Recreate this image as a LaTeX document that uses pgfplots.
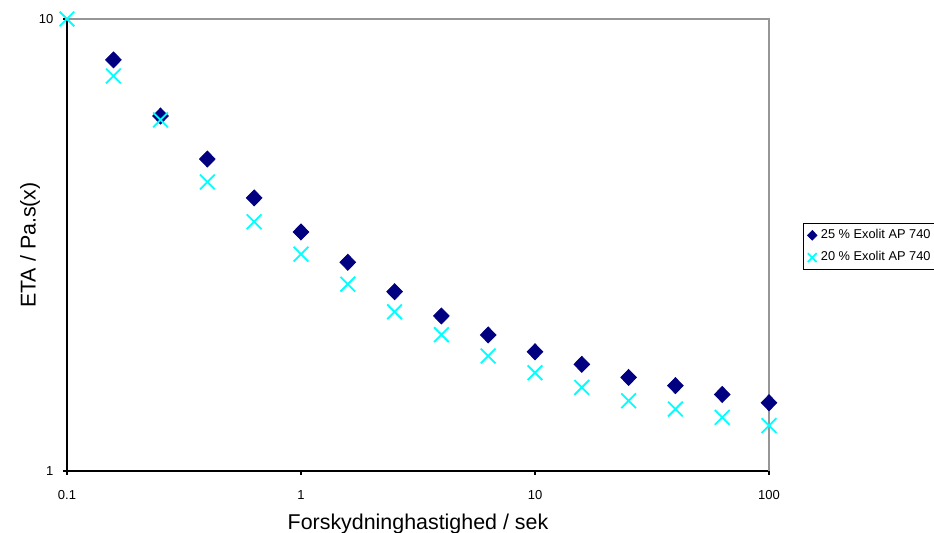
\documentclass[border=0pt]{standalone}
\usepackage{pgfplots}
\pgfplotsset{compat=1.18}
\usepackage{fontspec}
\setmainfont{Liberation Sans}
\definecolor{navyd}{RGB}{0,0,128}
\definecolor{cyanx}{RGB}{0,255,255}
\definecolor{frame}{RGB}{150,150,150}
\begin{document}
\begin{tikzpicture}
\begin{axis}[
    scale only axis, width=351pt, height=226pt,
    xmode=log, ymode=log,
    xmin=0.1, xmax=100, ymin=1, ymax=10,
    axis x line=bottom, axis y line=left,
    axis line style={black, line width=1pt, -},
    xtick={0.1,1,10,100}, xticklabels={0.1,1,10,100},
    ytick={1,10}, yticklabels={1,10},
    minor tick style={draw=none}, minor tick length=0pt,
    tick align=outside, major tick length=1.8pt,
    tick style={black, line width=0.6pt},
    tick label style={font=\fontsize{6.5}{7}\selectfont},
    xticklabel style={yshift=-4.5pt},
    yticklabel style={xshift=-1.5pt},
    xlabel={Forskydninghastighed / sek},
    ylabel={ETA / Pa.s(x)},
    label style={font=\fontsize{10.7}{12}\selectfont},
    xlabel style={at={(axis description cs:0.5,-0.129)}, anchor=base, inner sep=0pt},
    ylabel style={at={(axis description cs:-0.0527,0.5)}, anchor=center, rotate=0, inner sep=0pt},
    clip=false,
    legend style={at={(axis description cs:1.0484,0.5487)}, anchor=north west,
        draw=black, line width=0.6pt, font=\fontsize{6.4}{7}\selectfont,
        inner xsep=2pt, inner ysep=0.8pt, row sep=1pt,
        cells={anchor=west}},
    legend image code/.code={\draw[#1, every mark/.append style={scale=0.6}] plot coordinates {(0pt,0pt)};},
]
\addplot[only marks, color=navyd, mark=diamond*, mark size=4pt, line width=0.4pt, mark options={xscale=1.3}] coordinates {
(0.158,8.12)(0.251,6.10)(0.398,4.90)(0.631,4.02)(1,3.38)(1.585,2.896)(2.512,2.493)(3.981,2.203)(6.310,2.00)(10,1.836)(15.85,1.722)(25.12,1.611)(39.81,1.545)(63.10,1.477)(100,1.416)};
\addlegendentry{25 \% Exolit AP 740}
\addplot[only marks, color=cyanx, mark=x, mark size=5.2pt, line width=0.9pt] coordinates {
(0.1,10)(0.158,7.48)(0.251,5.98)(0.398,4.36)(0.631,3.56)(1,3.02)(1.585,2.59)(2.512,2.25)(3.981,2.003)(6.310,1.797)(10,1.650)(15.85,1.531)(25.12,1.431)(39.81,1.371)(63.10,1.314)(100,1.26)};
\addlegendentry{20 \% Exolit AP 740}
\draw[frame, line width=1pt] (rel axis cs:0,1) -- (rel axis cs:1,1) -- (rel axis cs:1,0);
\coordinate (bl) at (rel axis cs:-0.0954,-0.137);
\coordinate (tr) at (rel axis cs:1.235,1.042);
\end{axis}
\pgfresetboundingbox
\path[use as bounding box] (bl) rectangle (tr);
\end{tikzpicture}
\end{document}
